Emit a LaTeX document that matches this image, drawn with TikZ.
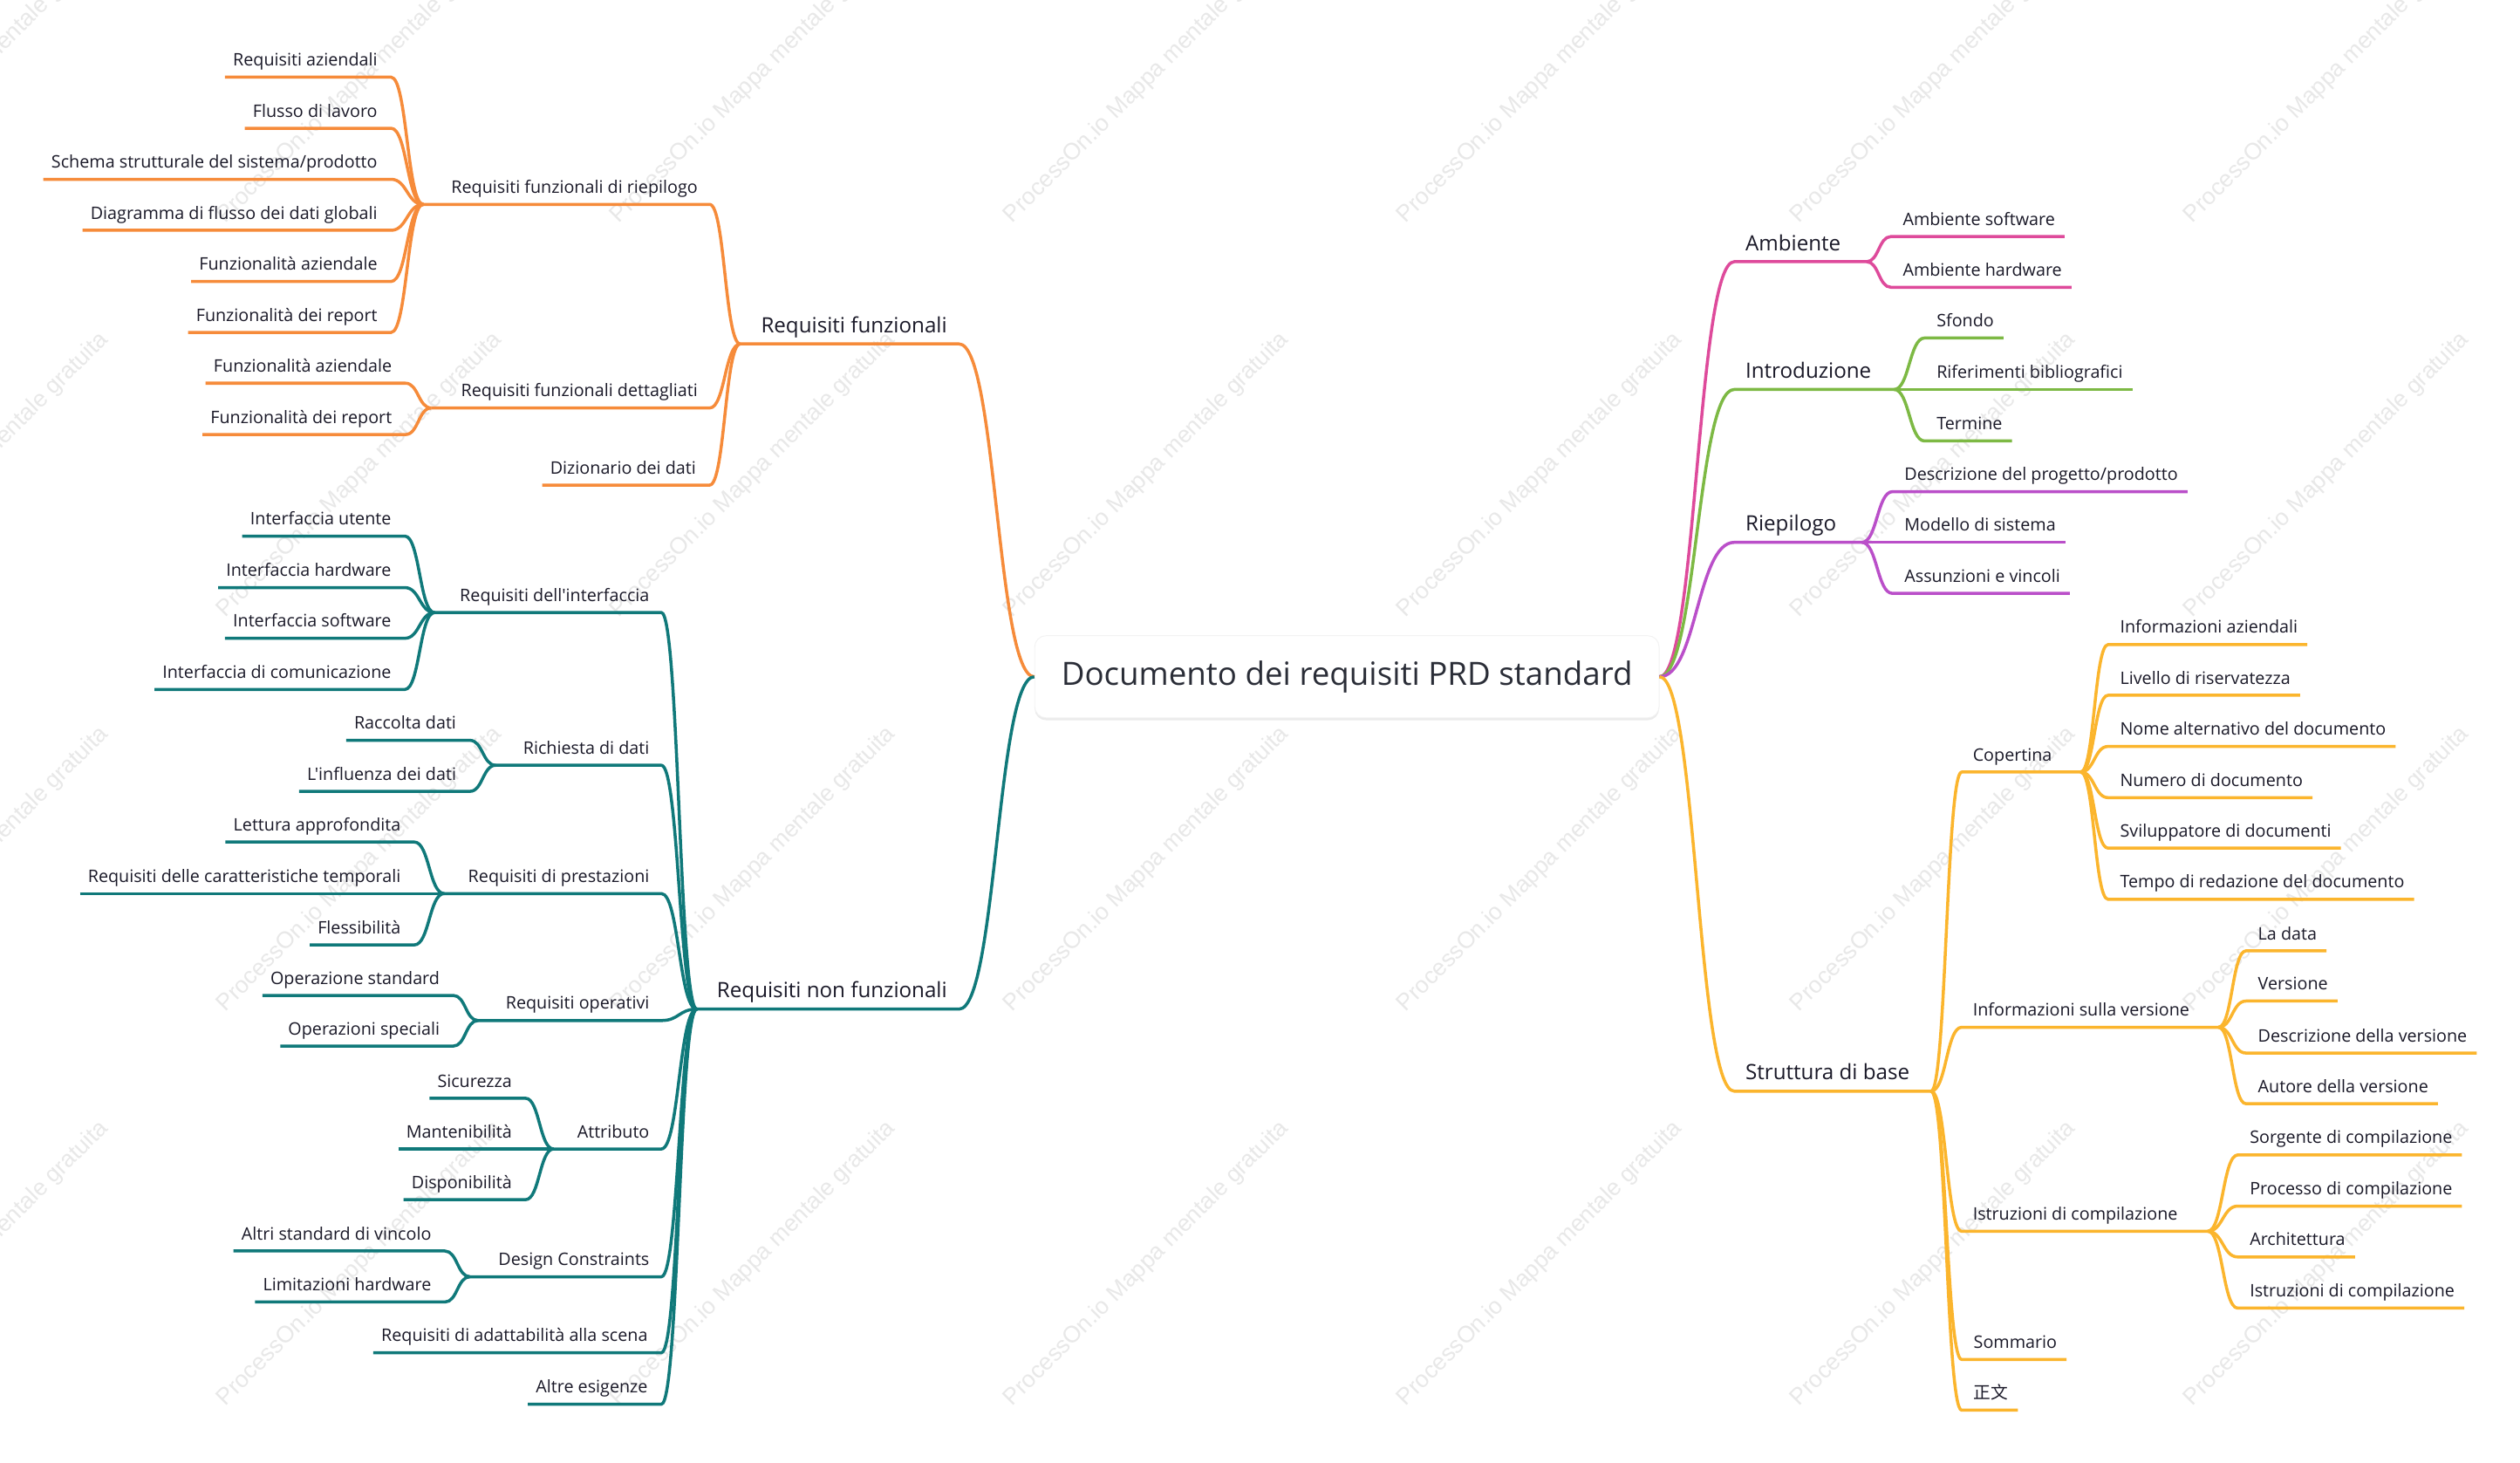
\documentclass[tikz,border=0pt]{standalone}
\usepackage{fontspec}
\newfontfamily\osans{Open Sans}
\newfontfamily\wmfont{Liberation Sans}
\newfontfamily\cjk{Noto Sans CJK SC}
\usetikzlibrary{calc,shadows}
\definecolor{cO}{HTML}{F68B3A}
\definecolor{cT}{HTML}{10797A}
\definecolor{cM}{HTML}{DE4A9B}
\definecolor{cG}{HTML}{7DB944}
\definecolor{cP}{HTML}{BA4FC9}
\definecolor{cY}{HTML}{FBB52D}
\definecolor{txt}{HTML}{1A1928}
\definecolor{roottxt}{HTML}{2A2D37}
\tikzset{
  br/.style={draw=#1, line width=1.9pt, line join=round, line cap=butt},
  tl/.style={font=\osans\fontsize{10.7}{12}\selectfont, text=txt, inner sep=0pt, outer sep=0pt},
  t1/.style={font=\osans\fontsize{13.1}{15}\selectfont, text=txt, inner sep=0pt, outer sep=0pt},
  wm/.style={font=\wmfont\fontsize{14.5}{16}\selectfont, text=black!9, inner sep=0pt, rotate=45, anchor=base west},
  rootbox/.style={fill=white, draw=black!5, line width=0.5pt, rounded corners=7pt,
    minimum width=388pt, minimum height=51pt, inner sep=0pt,
    font=\osans\fontsize{19.9}{22}\selectfont, text=roottxt,
    drop shadow={shadow xshift=0pt, shadow yshift=-1.5pt, opacity=0.08, fill=black}},
}
% connector from (name-in) to parent, after the underline from (name-out)
\newcommand\Conn[3]{%
  \coordinate (#1-m) at ($(#1-in)!0.5!(#2)$);
  \draw[br=#3] (#1-out) -- (#1-in) .. controls (#1-m |- #1-in) and (#1-m |- #2) .. (#2);}
% left side: name, parent, xin, y, colour, text
\newcommand\Lleaf[6]{%
  \coordinate (#1-in) at (#3,#4);
  \node[tl, anchor=base east] (#1) at (#3-8.5,#4-7) {#6};
  \path (#1.west |- #1-in) ++(-5,0) coordinate (#1-out);
  \Conn{#1}{#2}{#5}}
% left hub: name, parent, xin, y, xout, colour, style, text
\newcommand\Lhub[8]{%
  \coordinate (#1-in) at (#3,#4);
  \coordinate (#1-out) at (#5,#4);
  \node[#7, anchor=base east] (#1) at (#3-7.5,#4-7) {#8};
  \Conn{#1}{#2}{#6}}
\newcommand\Rleaf[6]{%
  \coordinate (#1-in) at (#3,#4);
  \node[tl, anchor=base west] (#1) at (#3+7.5,#4-7) {#6};
  \path (#1.east |- #1-in) ++(6,0) coordinate (#1-out);
  \Conn{#1}{#2}{#5}}
\newcommand\Rhub[8]{%
  \coordinate (#1-in) at (#3,#4);
  \coordinate (#1-out) at (#5,#4);
  \node[#7, anchor=base west] (#1) at (#3+7,#4-7) {#8};
  \Conn{#1}{#2}{#6}}
\begin{document}
\begin{tikzpicture}[x=1pt, y=-1pt]
\useasboundingbox (0,0) rectangle (1566,909);
\begin{scope}
  \clip (0,0) rectangle (1566,909);
  \fill[white] (0,0) rectangle (1566,909);
  \foreach \i in {-1,...,5} {
    \foreach \j in {0,...,3} {
      \node[wm] (wm\i\j) at ({140+244.5*\i},{139+245*\j}) {ProcessOn.io Mappa mentale gratuita};
    }
  }
\end{scope}

\node[rootbox] (root) at (837,420.5) {Documento dei requisiti PRD standard};

% ---------- Requisiti funzionali ----------
\Lhub{rf}{root.west}{596}{213.7}{460}{cO}{t1}{Requisiti funzionali}
\Lhub{rfr}{rf-out}{441}{127}{263}{cO}{tl}{Requisiti funzionali di riepilogo}
\Lhub{rfd}{rf-out}{441}{253.5}{268}{cO}{tl}{Requisiti funzionali dettagliati}
\Lleaf{dd}{rf-out}{441}{301.4}{cO}{Dizionario dei dati}
\Lleaf{o1}{rfr-out}{243}{47.9}{cO}{Requisiti aziendali}
\Lleaf{o2}{rfr-out}{243}{79.7}{cO}{Flusso di lavoro}
\Lleaf{o3}{rfr-out}{243}{111.4}{cO}{Schema strutturale del sistema/prodotto}
\Lleaf{o4}{rfr-out}{243}{143.1}{cO}{Diagramma di flusso dei dati globali}
\Lleaf{o5}{rfr-out}{243}{174.9}{cO}{Funzionalità aziendale}
\Lleaf{o6}{rfr-out}{243}{206.6}{cO}{Funzionalità dei report}
\Lleaf{o7}{rfd-out}{252}{238.1}{cO}{Funzionalità aziendale}
\Lleaf{o8}{rfd-out}{252}{270}{cO}{Funzionalità dei report}

% ---------- Requisiti non funzionali ----------
\Lhub{rnf}{root.west}{596}{627}{433}{cT}{t1}{Requisiti non funzionali}
\Lhub{ri}{rnf-out}{411}{380.6}{270}{cT}{tl}{Requisiti dell'interfaccia}
\Lhub{rd}{rnf-out}{411}{475.5}{308}{cT}{tl}{Richiesta di dati}
\Lhub{rp}{rnf-out}{411}{555.2}{276}{cT}{tl}{Requisiti di prestazioni}
\Lhub{ro}{rnf-out}{411}{634.1}{297}{cT}{tl}{Requisiti operativi}
\Lhub{attr}{rnf-out}{411}{713.9}{344}{cT}{tl}{Attributo}
\Lhub{dc}{rnf-out}{411}{793.3}{292}{cT}{tl}{Design Constraints}
\Lleaf{ra}{rnf-out}{411}{840.5}{cT}{Requisiti di adattabilità alla scena}
\Lleaf{ae}{rnf-out}{411}{872.5}{cT}{Altre esigenze}
\Lleaf{t1}{ri-out}{251.6}{333.1}{cT}{Interfaccia utente}
\Lleaf{t2}{ri-out}{251.6}{365.1}{cT}{Interfaccia hardware}
\Lleaf{t3}{ri-out}{251.6}{396.6}{cT}{Interfaccia software}
\Lleaf{t4}{ri-out}{251.6}{428.4}{cT}{Interfaccia di comunicazione}
\Lleaf{t5}{rd-out}{292}{460}{cT}{Raccolta dati}
\Lleaf{t6}{rd-out}{292}{491.7}{cT}{L'influenza dei dati}
\Lleaf{t7}{rp-out}{257.5}{523.2}{cT}{Lettura approfondita}
\Lleaf{t8}{rp-out}{257.5}{555.2}{cT}{Requisiti delle caratteristiche temporali}
\Lleaf{t9}{rp-out}{257.5}{587.1}{cT}{Flessibilità}
\Lleaf{t10}{ro-out}{281.7}{618.5}{cT}{Operazione standard}
\Lleaf{t11}{ro-out}{281.7}{650}{cT}{Operazioni speciali}
\Lleaf{t12}{attr-out}{326.6}{682.4}{cT}{Sicurezza}
\Lleaf{t13}{attr-out}{326.6}{713.9}{cT}{Mantenibilità}
\Lleaf{t14}{attr-out}{326.6}{745.4}{cT}{Disponibilità}
\Lleaf{t15}{dc-out}{276.5}{777.3}{cT}{Altri standard di vincolo}
\Lleaf{t16}{dc-out}{276.5}{809}{cT}{Limitazioni hardware}

% ---------- right side ----------
\Rhub{amb}{root.east}{1077.7}{162.6}{1160}{cM}{t1}{Ambiente}
\Rleaf{m1}{amb-out}{1175}{147}{cM}{Ambiente software}
\Rleaf{m2}{amb-out}{1175}{178.5}{cM}{Ambiente hardware}

\Rhub{intro}{root.east}{1077.7}{242}{1177}{cG}{t1}{Introduzione}
\Rleaf{g1}{intro-out}{1196}{210}{cG}{Sfondo}
\Rleaf{g2}{intro-out}{1196}{242}{cG}{Riferimenti bibliografici}
\Rleaf{g3}{intro-out}{1196}{274}{cG}{Termine}

\Rhub{riep}{root.east}{1077.7}{337}{1157}{cP}{t1}{Riepilogo}
\Rleaf{p1}{riep-out}{1176}{305.5}{cP}{Descrizione del progetto/prodotto}
\Rleaf{p2}{riep-out}{1176}{337}{cP}{Modello di sistema}
\Rleaf{p3}{riep-out}{1176}{368.7}{cP}{Assunzioni e vincoli}

\Rhub{sdb}{root.east}{1077.7}{678}{1200}{cY}{t1}{Struttura di base}
\Rhub{cop}{sdb-out}{1219}{479.7}{1293}{cY}{tl}{Copertina}
\Rhub{isv}{sdb-out}{1219}{638.3}{1378.6}{cY}{tl}{Informazioni sulla versione}
\Rhub{idc}{sdb-out}{1219}{765}{1372}{cY}{tl}{Istruzioni di compilazione}
\Rleaf{som}{sdb-out}{1219}{844.7}{cY}{Sommario}
\Rleaf{zw}{sdb-out}{1219}{876.2}{cY}{{\cjk 正文}}
\Rleaf{y1}{cop-out}{1310}{400.5}{cY}{Informazioni aziendali}
\Rleaf{y2}{cop-out}{1310}{432}{cY}{Livello di riservatezza}
\Rleaf{y3}{cop-out}{1310}{463.8}{cY}{Nome alternativo del documento}
\Rleaf{y4}{cop-out}{1310}{495.6}{cY}{Numero di documento}
\Rleaf{y5}{cop-out}{1310}{527}{cY}{Sviluppatore di documenti}
\Rleaf{y6}{cop-out}{1310}{558.8}{cY}{Tempo di redazione del documento}
\Rleaf{y7}{isv-out}{1395.7}{590.8}{cY}{La data}
\Rleaf{y8}{isv-out}{1395.7}{622}{cY}{Versione}
\Rleaf{y9}{isv-out}{1395.7}{654.3}{cY}{Descrizione della versione}
\Rleaf{y10}{isv-out}{1395.7}{685.8}{cY}{Autore della versione}
\Rleaf{y11}{idc-out}{1390.6}{717.6}{cY}{Sorgente di compilazione}
\Rleaf{y12}{idc-out}{1390.6}{749.4}{cY}{Processo di compilazione}
\Rleaf{y13}{idc-out}{1390.6}{781}{cY}{Architettura}
\Rleaf{y14}{idc-out}{1390.6}{812.8}{cY}{Istruzioni di compilazione}
\end{tikzpicture}
\end{document}
